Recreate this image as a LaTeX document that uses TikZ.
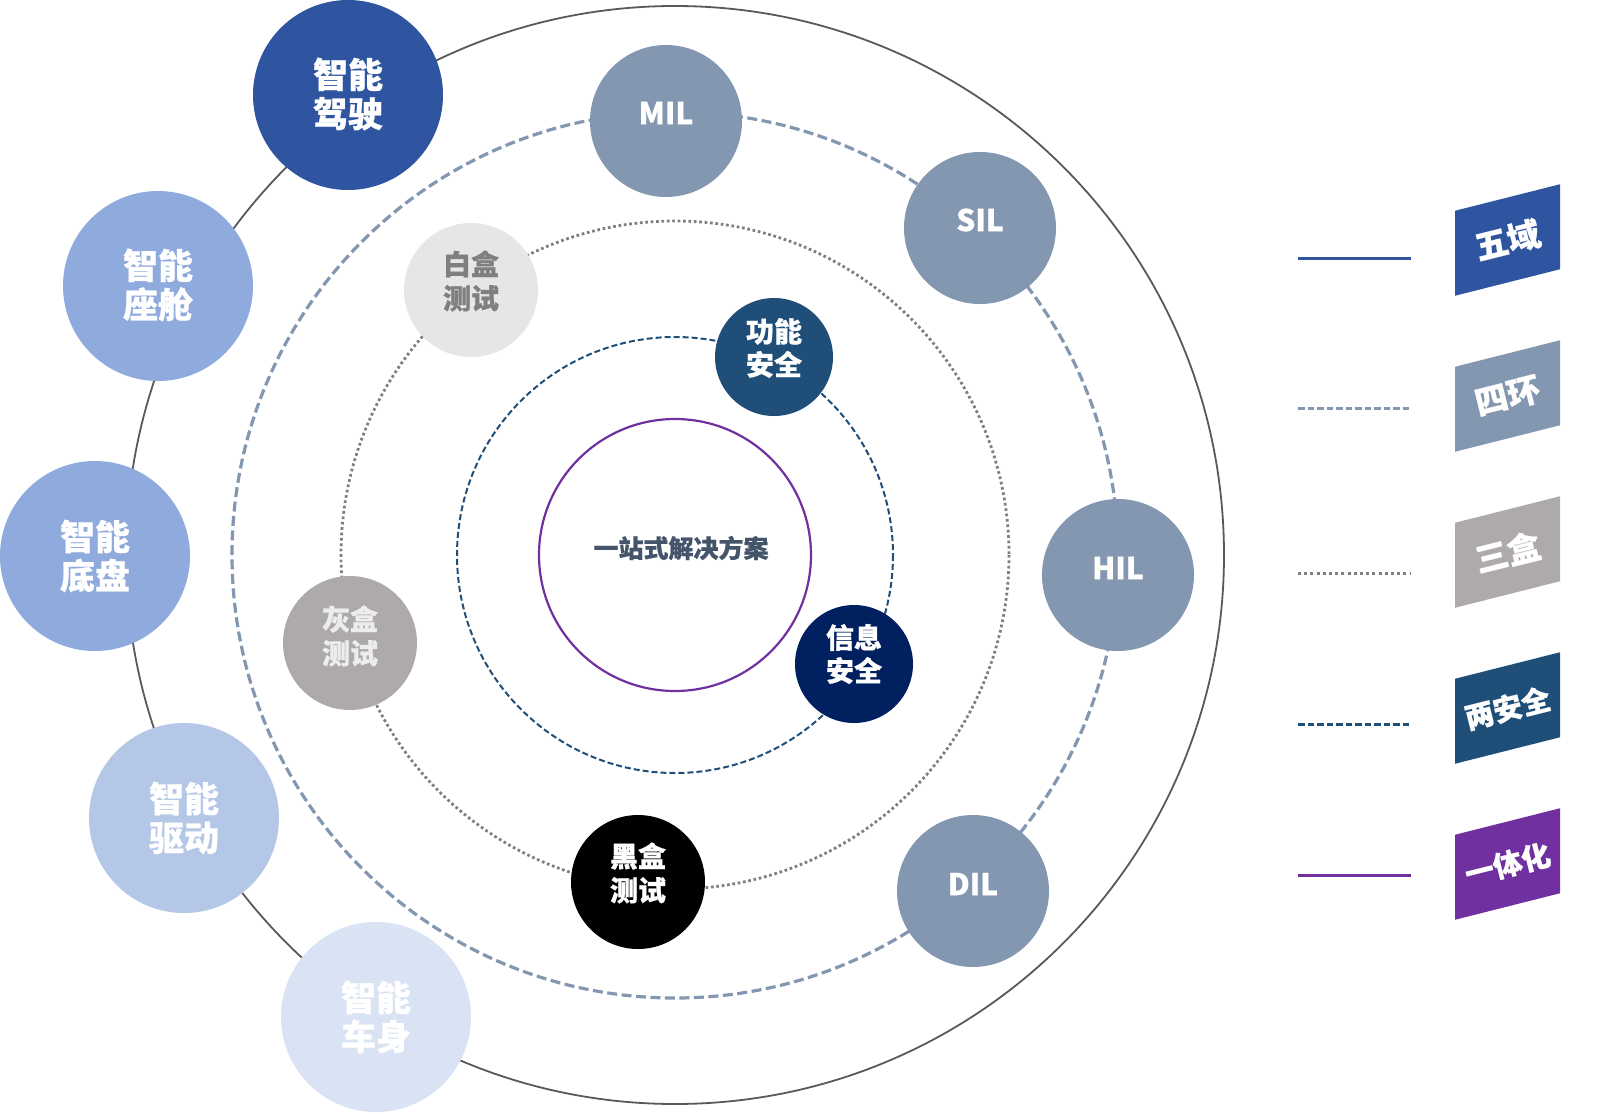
\documentclass[tikz,border=0pt]{standalone}
\usepackage{fontspec}
\setmainfont{Noto Sans CJK SC}[BoldFeatures={FakeBold=0.6}]
\definecolor{cDrive}{HTML}{2F55A0}
\definecolor{cCabin}{HTML}{8FAADC}
\definecolor{cPower}{HTML}{B4C7E7}
\definecolor{cBody}{HTML}{DAE3F3}
\definecolor{cRing}{HTML}{8497B0}
\definecolor{cWhiteBox}{HTML}{E6E6E6}
\definecolor{cWhiteTxt}{HTML}{7F7F7F}
\definecolor{cGreyBox}{HTML}{AEAAAA}
\definecolor{cGreyTxt}{HTML}{EDEDED}
\definecolor{cFunc}{HTML}{1F4E79}
\definecolor{cInfo}{HTML}{002060}
\definecolor{cPurple}{HTML}{7030A0}
\definecolor{cCore}{HTML}{44546A}
\definecolor{cOuter}{HTML}{595959}
\definecolor{cDot}{HTML}{7F7F7F}
\tikzset{
  outerring/.style={draw=cOuter, line width=1.8pt},
  fourring/.style={draw=cRing, line width=3.2pt, dash pattern=on 10pt off 4.5pt},
  threering/.style={draw=cDot, line width=2.8pt, dash pattern=on 2.7pt off 2.7pt},
  tworing/.style={draw=cFunc, line width=2pt, dash pattern=on 6pt off 3pt},
  onering/.style={draw=cPurple, line width=2.2pt},
  domainc/.style={circle, minimum size=190pt, inner sep=0pt},
  loopc/.style={circle, minimum size=152pt, inner sep=0pt, fill=cRing},
  boxc/.style={circle, minimum size=134pt, inner sep=0pt},
  safec/.style={circle, minimum size=118pt, inner sep=0pt},
  domaintxt/.style={text=white, align=center, font=\bfseries\fontsize{35}{39}\selectfont},
  looptxt/.style={text=white, font=\bfseries\fontsize{30}{34}\selectfont},
  boxtxt/.style={align=center, font=\bfseries\fontsize{28}{34}\selectfont},
  safetxt/.style={text=white, align=center, font=\bfseries\fontsize{28}{33}\selectfont},
  legtxt/.style={text=white, rotate=14, inner sep=0pt, font=\bfseries\fontsize{33}{36}\selectfont},
  legtxtsm/.style={text=white, rotate=14, inner sep=0pt, font=\bfseries\fontsize{29}{32}\selectfont},
  legline/.style={line width=3pt},
}
\begin{document}
\begin{tikzpicture}[x=1pt,y=-1pt]
\useasboundingbox (0,0) rectangle (1599,1114);
\coordinate (O) at (675,555);
% rings
\draw[outerring] (O) circle[radius=549];
\draw[fourring] (O) circle[radius=443];
\draw[threering] (O) circle[radius=334];
\draw[tworing] (O) circle[radius=218];
\node[circle, minimum size=272pt, inner sep=0pt, onering] (core) at (O) {};
\node[text=cCore, font=\bfseries\fontsize{25}{28}\selectfont] (coret) at (681,548) {一站式解决方案};
% five domains
\node[domainc, fill=cDrive] (d1) at (348,95) {};
\node[domaintxt] (d1t) at (348,94) {智能\\驾驶};
\node[domainc, fill=cCabin] (d2) at (158,286) {};
\node[domaintxt] (d2t) at (158,285) {智能\\座舱};
\node[domainc, fill=cCabin] (d3) at (95,556) {};
\node[domaintxt] (d3t) at (95,556) {智能\\底盘};
\node[domainc, fill=cPower] (d4) at (184,818) {};
\node[domaintxt] (d4t) at (184,818) {智能\\驱动};
\node[domainc, fill=cBody] (d5) at (376,1017) {};
\node[domaintxt] (d5t) at (376,1017) {智能\\车身};
% four loops
\node[loopc] (mil) at (666,121) {};
\node[looptxt] (milt) at (666,113) {MIL};
\node[loopc] (sil) at (980,228) {};
\node[looptxt] (silt) at (980,220) {SIL};
\node[loopc] (hil) at (1118,575) {};
\node[looptxt] (hilt) at (1118,568) {HIL};
\node[loopc] (dil) at (973,891) {};
\node[looptxt] (dilt) at (973,884) {DIL};
% three boxes
\node[boxc, fill=cWhiteBox] (wb) at (471,290) {};
\node[boxtxt, text=cWhiteTxt] (wbt) at (471,281) {白盒\\测试};
\node[boxc, fill=cGreyBox] (gb) at (350,643) {};
\node[boxtxt, text=cGreyTxt] (gbt) at (350,636) {灰盒\\测试};
\node[boxc, fill=black] (bb) at (638,882) {};
\node[boxtxt, text=white] (bbt) at (638,873) {黑盒\\测试};
% two safeties
\node[safec, fill=cFunc] (fs) at (774,357) {};
\node[safetxt] (fst) at (774,348) {功能\\安全};
\node[safec, fill=cInfo] (is) at (854,664) {};
\node[safetxt] (ist) at (854,654) {信息\\安全};
% legend lines
\draw[legline, draw=cDrive] (1298,258) coordinate (l1a) -- (1411,258) coordinate (l1b);
\draw[legline, draw=cRing, dash pattern=on 6.5pt off 3pt] (1298,408) coordinate (l2a) -- (1411,408) coordinate (l2b);
\draw[legline, draw=cDot, dash pattern=on 3pt off 3.2pt] (1298,573) coordinate (l3a) -- (1411,573) coordinate (l3b);
\draw[legline, draw=cFunc, dash pattern=on 6.5pt off 3pt] (1298,724) coordinate (l4a) -- (1411,724) coordinate (l4b);
\draw[legline, draw=cPurple] (1298,875) coordinate (l5a) -- (1411,875) coordinate (l5b);
% legend tags
\fill[cDrive] (1455,210.75) -- (1560,184.25) -- (1560,269.25) -- (1455,295.75) -- cycle;
\node[legtxt] (g1) at (1507.5,240) {五域};
\fill[cRing] (1455,366.75) -- (1560,340.25) -- (1560,425.25) -- (1455,451.75) -- cycle;
\node[legtxt] (g2) at (1507.5,396) {四环};
\fill[cGreyBox] (1455,522.75) -- (1560,496.25) -- (1560,581.25) -- (1455,607.75) -- cycle;
\node[legtxt] (g3) at (1507.5,552) {三盒};
\fill[cFunc] (1455,678.75) -- (1560,652.25) -- (1560,737.25) -- (1455,763.75) -- cycle;
\node[legtxtsm] (g4) at (1507.5,708) {两安全};
\fill[cPurple] (1455,834.75) -- (1560,808.25) -- (1560,893.25) -- (1455,919.75) -- cycle;
\node[legtxtsm] (g5) at (1507.5,864) {一体化};
\end{tikzpicture}
\end{document}
